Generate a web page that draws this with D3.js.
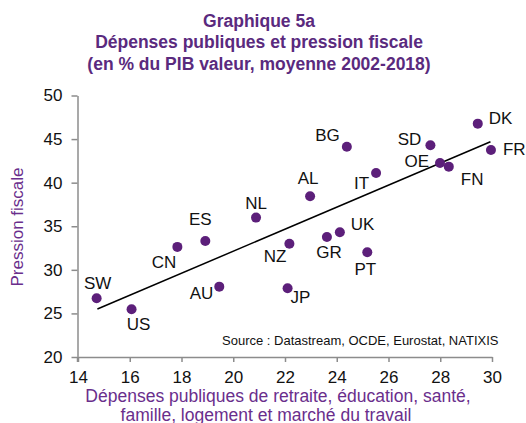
<!DOCTYPE html>
<html><head><meta charset="utf-8">
<script src="https://cdn.jsdelivr.net/npm/d3@7"></script>
<style>body{margin:0;background:#fff}svg{display:block}text{font-family:"Liberation Sans",Arial,sans-serif}</style>
</head><body><svg id="c" width="526" height="423"></svg>
<script>
// ---- data ----
const countries = ["DK","FR","SD","OE","FN","BG","IT","AL","UK","GR","NZ","PT","JP","NL","ES","CN","AU","SW","US"];
const depenses  = [29.45,29.96,27.62,27.99,28.33,24.39,25.52,22.97,24.12,23.62,22.17,25.18,22.10,20.88,18.92,17.84,19.46,14.72,16.07];
const pression  = [46.77,43.75,44.29,42.26,41.84,44.13,41.11,38.44,34.31,33.77,33.00,32.02,27.89,35.99,33.31,32.63,28.07,26.74,25.48];
const trendX = [14.75, 29.94];
const trendY = [25.5, 44.7];
const xTicks = [14,16,18,20,22,24,26,28,30];
const yTicks = [20,25,30,35,40,45,50];
const titleLines = ["Graphique 5a","Dépenses publiques et pression fiscale","(en % du PIB valeur, moyenne 2002-2018)"];
const xTitleLines = ["Dépenses publiques de retraite, éducation, santé,","famille, logement et marché du travail"];
const yTitle = "Pression fiscale";
const sourceText = "Source : Datastream,  OCDE, Eurostat,  NATIXIS";

// ---- layout (label placement) ----
const labelPos = {
  DK:["start",11,-5], FR:["start",12,0], SD:["end",-9,-6], OE:["end",-11,-1],
  FN:["start",12,13], BG:["end",-7,-11], IT:["end",-7,11], AL:["middle",-2,-18],
  UK:["start",11,-8], GR:["middle",2,16], NZ:["end",-3,13], PT:["middle",-2,17],
  JP:["start",3,9], NL:["middle",0,-14], ES:["middle",-5,-21], CN:["end",-1,16],
  AU:["end",-6,7], SW:["middle",1,-15], US:["middle",7,15]
};

const svg = d3.select("#c");
const x = d3.scaleLinear().domain([14,30]).range([78,492]);
const y = d3.scaleLinear().domain([20,50]).range([357,95.5]);
const purple = "#5c1f7a", titleCol = "#5a2a7e", axisTitleCol = "#6a2e8c", axisCol = "#8c8c8c";

// title
svg.append("g").selectAll("text").data(titleLines).join("text")
  .attr("x",259).attr("y",(d,i)=>[21,42,63.5][i]).attr("text-anchor","middle")
  .attr("dominant-baseline","central").attr("font-weight","bold").attr("font-size",17.5)
  .attr("fill",titleCol).text(d=>d);

// axes
const xAxis = svg.append("g").attr("transform","translate(0,357)")
  .call(d3.axisBottom(x).tickValues(xTicks).tickSize(5).tickPadding(9).tickSizeOuter(0).tickFormat(d3.format("d")));
const yAxis = svg.append("g").attr("transform","translate(77.5,0)")
  .call(d3.axisLeft(y).tickValues(yTicks).tickSize(6).tickPadding(9).tickSizeOuter(0).tickFormat(d3.format("d")));
[xAxis,yAxis].forEach(a=>{
  a.select(".domain").attr("stroke",axisCol).attr("stroke-width",1.5);
  a.selectAll(".tick line").attr("stroke",axisCol).attr("stroke-width",1.5);
  a.selectAll(".tick text").attr("font-size",17).attr("fill","#111").attr("font-family","Liberation Sans, Arial, sans-serif");
});
// y axis extends slightly below x axis
svg.append("line").attr("x1",77.5).attr("x2",77.5).attr("y1",357).attr("y2",362).attr("stroke",axisCol).attr("stroke-width",1.5);

// source
svg.append("text").attr("x",222).attr("y",340).attr("dominant-baseline","central")
  .attr("font-size",13).attr("fill","#111").text(sourceText);

// trend line
svg.append("line").attr("x1",x(trendX[0])).attr("y1",y(trendY[0]))
  .attr("x2",x(trendX[1])).attr("y2",y(trendY[1])).attr("stroke","#000").attr("stroke-width",1.5);

// points
const pts = countries.map((c,i)=>({c, x:depenses[i], y:pression[i]}));
svg.append("g").selectAll("circle").data(pts).join("circle")
  .attr("cx",d=>x(d.x)).attr("cy",d=>y(d.y)).attr("r",5).attr("fill",purple);
svg.append("g").selectAll("text").data(pts).join("text")
  .attr("x",d=>x(d.x)+labelPos[d.c][1]).attr("y",d=>y(d.y)+labelPos[d.c][2])
  .attr("text-anchor",d=>labelPos[d.c][0]).attr("dominant-baseline","central")
  .attr("font-size",17).attr("fill","#111").text(d=>d.c);

// axis titles
svg.append("g").selectAll("text").data(xTitleLines).join("text")
  .attr("x",(d,i)=>[278,266][i]).attr("y",(d,i)=>[395.5,415][i]).attr("text-anchor","middle")
  .attr("dominant-baseline","central").attr("font-size",17.5).attr("fill",axisTitleCol).text(d=>d);
svg.append("text").attr("transform","translate(17,227) rotate(-90)").attr("text-anchor","middle")
  .attr("dominant-baseline","central").attr("font-size",17).attr("fill",axisTitleCol).text(yTitle);
</script></body></html>
